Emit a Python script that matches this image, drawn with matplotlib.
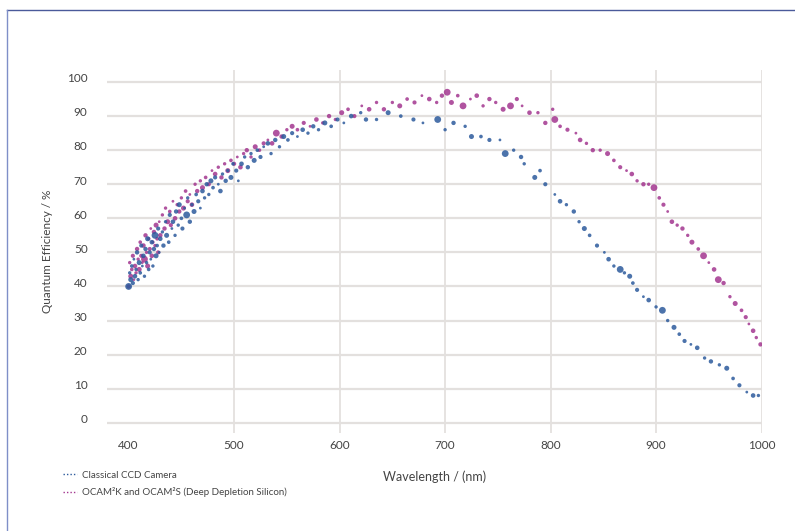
import numpy as np
import matplotlib.pyplot as plt
from matplotlib.lines import Line2D
import matplotlib.transforms as mtransforms

plt.rcParams['font.family'] = ['Lato', 'DejaVu Sans']

# Classical CCD camera (blue)
ccd_wl = [400, 401, 402, 403, 404, 405, 406, 407, 408, 409,
          410, 411, 412, 413, 414, 415, 416, 417, 418, 419,
          420, 421, 422, 423, 424, 425, 426, 427, 428, 429,
          430, 432, 433, 435, 436, 438, 439, 441, 442, 444,
          445, 447, 448, 450, 451, 453, 455, 456, 458, 460,
          462, 464, 466, 468, 470, 472, 474, 476, 478, 480,
          482, 485, 487, 489, 492, 494, 497, 499, 502, 504,
          507, 510, 513, 516, 519, 522, 525, 528, 532, 535,
          539, 543, 547, 551, 555, 560, 565, 570, 575, 580,
          586, 592, 598, 604, 611, 620, 625, 635, 646, 658,
          670, 679, 693,
          700, 708, 719, 725, 734, 742, 752, 757, 765, 772,
          775, 785, 790, 795, 804, 809, 815, 822, 827, 832,
          837, 844, 851, 855, 860, 866, 870, 875, 878, 882,
          888, 893, 900, 906, 911, 917, 922, 927, 933, 939,
          946, 952, 960, 967, 973, 979, 986, 992, 997]
ccd_qe = [40, 44, 42, 46, 41, 48, 43, 45, 50, 42,
          47, 44, 52, 46, 49, 43, 51, 47, 54, 45,
          50, 48, 53, 46, 51, 55, 49, 52, 57, 50,
          54, 56, 52, 59, 55, 53, 61, 57, 59, 55,
          62, 58, 64, 60, 57, 63, 61, 66, 59, 64,
          62, 67, 65, 63, 68, 66, 70, 67, 71, 69,
          72, 70, 68, 73, 71, 74, 72, 76, 74, 71,
          76, 78, 75, 79, 77, 80, 78, 81, 82, 79,
          83, 81, 84, 83, 85, 84, 86, 85, 87, 86,
          88, 87, 89, 88, 90, 91, 89, 89, 91, 90,
          89, 88, 89,
          86, 88, 87, 84, 84, 83, 83, 79, 80, 78,
          76, 72, 74, 70, 67, 65, 64, 62, 59, 57,
          55, 52, 50, 48, 46, 45, 44, 43, 41, 39,
          37, 36, 34, 33, 30, 28, 26, 24, 23, 22,
          19, 18, 17, 16, 13, 11, 9, 8, 8]

# OCAM2K and OCAM2S deep depletion silicon (purple)
ocam_wl = [400, 401, 402, 403, 404, 405, 406, 407, 408, 409,
           410, 411, 412, 413, 414, 415, 416, 417, 418, 419,
           420, 421, 422, 423, 424, 425, 426, 427, 428, 429,
           430, 432, 434, 435, 437, 439, 440, 442, 444, 446,
           448, 450, 452, 454, 456, 458, 460, 463, 465, 468,
           470, 473, 476, 479, 482, 485, 488, 491, 494, 497,
           500, 503, 506, 509, 512, 516, 520, 524, 528, 532,
           536, 540, 545, 550, 555, 560, 566, 572, 578, 584,
           590, 596, 602, 608, 614, 621, 628, 635, 642, 650,
           657, 664, 671, 678, 685, 692, 697, 702,
           706, 712, 717, 724, 730, 736, 742, 748, 755, 762,
           768, 773, 780, 788, 795, 802, 804, 809, 816, 824,
           828, 834, 840, 847, 854, 860, 866, 872, 877, 882,
           888, 893, 898, 903, 907, 911, 915, 920, 925, 930,
           934, 940, 945, 950, 955, 959, 964, 970, 975, 981,
           985, 988, 992, 995, 999]
ocam_qe = [40, 47, 43, 45, 49, 42, 46, 44, 51, 48,
           45, 53, 49, 47, 52, 48, 55, 50, 46, 54,
           51, 57, 49, 53, 56, 52, 58, 54, 50, 59,
           55, 61, 57, 63, 59, 62, 58, 65, 60, 64,
           62, 66, 63, 68, 65, 67, 64, 70, 68, 71,
           69, 72, 70, 74, 73, 75, 72, 76, 74, 77,
           76, 78, 75, 79, 80, 78, 81, 80, 82, 83,
           82, 85, 84, 86, 87, 86, 88, 87, 89, 88,
           90, 89, 91, 92, 90, 93, 92, 94, 92, 94,
           93, 95, 94, 96, 95, 94, 96, 97,
           94, 96, 93, 95, 96, 93, 95, 94, 92, 93,
           95, 93, 91, 91, 88, 92, 89, 87, 86, 85,
           83, 82, 80, 80, 79, 77, 75, 74, 73, 71,
           70, 70, 69, 66, 64, 62, 59, 58, 57, 55,
           53, 51, 49, 47, 45, 42, 41, 37, 35, 33,
           31, 29, 27, 25, 23]

ccd_big = [400, 693, 757, 866, 906, 425, 500, 455]
ocam_big = [702, 717, 762, 804, 898, 945, 959, 415, 480, 540]

x_ticks = [400, 500, 600, 700, 800, 900, 1000]
y_ticks = [0, 10, 20, 30, 40, 50, 60, 70, 80, 90, 100]

assert len(ccd_wl) == len(ccd_qe)
assert len(ocam_wl) == len(ocam_qe)

blue = '#2c5a9c'
purple = '#a3368f'
text_col = '#444444'


def dot_sizes(wl, big):
    s = np.resize([10, 6, 13, 7, 9, 4, 11, 6], len(wl)).astype(float)
    for i, w in enumerate(wl):
        if w in big:
            s[i] = 24
    return s


fig = plt.figure(figsize=(7.95, 5.31), dpi=100)
ax = fig.add_axes([0.1346, 0.1846, 0.824, 0.6834])

ax.scatter(ocam_wl, ocam_qe, s=dot_sizes(ocam_wl, ocam_big), color=purple,
           alpha=0.85, linewidths=0, zorder=3)
ax.scatter(ccd_wl, ccd_qe, s=dot_sizes(ccd_wl, ccd_big), color=blue,
           alpha=0.85, linewidths=0, zorder=4)

ax.set_xlim(379.5, 1000.5)
ax.set_ylim(-3, 103.5)
ax.set_xticks(x_ticks)
ax.set_yticks(y_ticks)
ax.grid(axis='y', color='#e3e0de', linewidth=1.6, zorder=0)
for xv in x_ticks[1:]:
    ax.axvline(xv, color='#e6e3e1', linewidth=1.4, zorder=0)

for sp in ax.spines.values():
    sp.set_visible(False)
ax.tick_params(length=0, labelsize=8.5, labelcolor=text_col)
ax.tick_params(axis='y', pad=14)
ax.tick_params(axis='x', pad=5)
off = mtransforms.ScaledTranslation(0, 3 / 72, fig.dpi_scale_trans)
for lab in ax.get_yticklabels():
    lab.set_transform(lab.get_transform() + off)

ax.set_xlabel('Wavelength / (nm)', fontsize=9, color=text_col, labelpad=14)
ax.set_ylabel('Quantum Efficiency / %', fontsize=8.5, color=text_col, labelpad=10)

handles = [Line2D([], [], color=blue, linestyle=(0, (1, 1.5)), linewidth=1),
           Line2D([], [], color=purple, linestyle=(0, (1, 1.5)), linewidth=1)]
fig.legend(handles, ['Classical CCD Camera',
                     'OCAM²K and OCAM²S (Deep Depletion Silicon)'],
           loc='upper left', bbox_to_anchor=(0.068, 0.13), frameon=False,
           fontsize=7, labelcolor=text_col, handlelength=1.5,
           handletextpad=0.5, labelspacing=0.8)

# page border
fig.add_artist(Line2D([0.009, 1.0], [0.981, 0.981], color='#4a5a9a',
                      linewidth=1, transform=fig.transFigure))
fig.add_artist(Line2D([0.009, 0.009], [0.0, 0.981], color='#7f8fc8',
                      linewidth=1, transform=fig.transFigure))

fig.savefig('out.png', dpi=100)
